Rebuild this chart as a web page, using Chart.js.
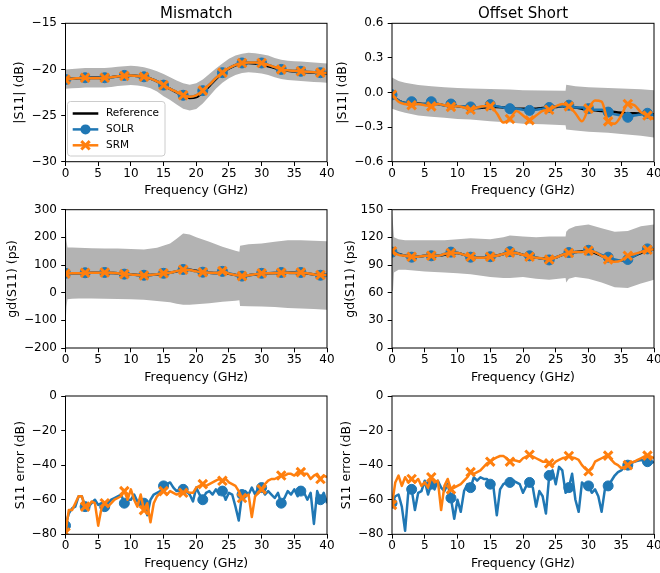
<!DOCTYPE html>
<html><head><meta charset="utf-8">
<script src="https://cdn.jsdelivr.net/npm/chart.js@4.4.1/dist/chart.umd.min.js"></script>
<style>
html,body{margin:0;padding:0;background:#fff;overflow:hidden;width:660px;height:573px;position:relative;}
canvas{position:absolute;}
</style></head><body>
<canvas id="c1"></canvas><canvas id="c2"></canvas><canvas id="c3"></canvas>
<canvas id="c4"></canvas><canvas id="c5"></canvas><canvas id="c6"></canvas>
<script>
// ---------- DATA ----------
const freq1 = [0,1,2,3,4,5,6,7,8,9,10,11,12,13,14,15,16,17,18,19,20,21,22,23,24,25,26,27,28,29,30,31,32,33,34,35,36,37,38,39,40];
const freq05 = [0,0.5,1,1.5,2,2.5,3,3.5,4,4.5,5,5.5,6,6.5,7,7.5,8,8.5,9,9.5,10,10.5,11,11.5,12,12.5,13,13.5,14,14.5,15,15.5,16,16.5,17,17.5,18,18.5,19,19.5,20,20.5,21,21.5,22,22.5,23,23.5,24,24.5,25,25.5,26,26.5,27,27.5,28,28.5,29,29.5,30,30.5,31,31.5,32,32.5,33,33.5,34,34.5,35,35.5,36,36.5,37,37.5,38,38.5,39,39.5,40];
const markerFreqs = [0,3,6,9,12,15,18,21,24,27,30,33,36,39];
const xTicks = [0,5,10,15,20,25,30,35,40];

// Mismatch |S11| (dB)
const mmMagRef  = [-21.05,-21.0,-20.95,-20.9,-20.9,-20.9,-20.9,-20.85,-20.75,-20.7,-20.65,-20.7,-20.8,-21.0,-21.3,-21.7,-22.1,-22.5,-22.9,-23.1,-23.0,-22.5,-21.8,-21.05,-20.4,-19.9,-19.55,-19.35,-19.3,-19.35,-19.45,-19.65,-19.85,-20.05,-20.15,-20.2,-20.25,-20.3,-20.35,-20.4,-20.45];
const mmMagSOLR = [-21.1,-21.0,-20.95,-20.9,-20.95,-20.95,-20.9,-20.85,-20.75,-20.65,-20.65,-20.7,-20.8,-21.0,-21.3,-21.7,-22.1,-22.45,-22.8,-22.95,-22.8,-22.3,-21.65,-20.95,-20.35,-19.85,-19.5,-19.3,-19.25,-19.25,-19.3,-19.5,-19.75,-20.0,-20.1,-20.15,-20.2,-20.25,-20.3,-20.35,-20.4];
const mmMagSRM  = [-21.1,-21.0,-20.95,-20.9,-20.95,-20.95,-20.9,-20.85,-20.75,-20.7,-20.65,-20.7,-20.8,-21.0,-21.3,-21.7,-22.1,-22.45,-22.8,-22.95,-22.8,-22.3,-21.65,-20.95,-20.35,-19.85,-19.5,-19.3,-19.25,-19.25,-19.3,-19.5,-19.75,-20.0,-20.1,-20.15,-20.2,-20.25,-20.3,-20.35,-20.4];
const mmMagBandUpper = [-20.0,-19.95,-19.9,-19.85,-19.85,-19.85,-19.85,-19.8,-19.7,-19.65,-19.6,-19.65,-19.75,-19.95,-20.2,-20.5,-20.85,-21.2,-21.5,-21.65,-21.5,-21.1,-20.5,-19.9,-19.35,-18.85,-18.5,-18.3,-18.2,-18.25,-18.35,-18.5,-18.75,-18.95,-19.05,-19.1,-19.15,-19.2,-19.25,-19.3,-19.35];
const mmMagBandLower = [-22.1,-22.05,-22.0,-21.95,-21.95,-21.95,-21.95,-21.9,-21.8,-21.75,-21.7,-21.75,-21.85,-22.05,-22.4,-22.9,-23.3,-23.8,-24.25,-24.45,-24.3,-23.7,-22.9,-22.1,-21.45,-20.95,-20.6,-20.4,-20.3,-20.35,-20.45,-20.6,-20.85,-21.05,-21.15,-21.2,-21.25,-21.3,-21.35,-21.4,-21.45];

// Offset Short |S11| (dB)
const osMagRef  = [-0.02,-0.07,-0.09,-0.09,-0.095,-0.1,-0.1,-0.1,-0.11,-0.11,-0.12,-0.125,-0.13,-0.135,-0.13,-0.125,-0.125,-0.13,-0.135,-0.14,-0.14,-0.14,-0.14,-0.135,-0.13,-0.125,-0.12,-0.125,-0.13,-0.14,-0.15,-0.155,-0.16,-0.165,-0.17,-0.175,-0.18,-0.18,-0.185,-0.19,-0.19];
const osMagSOLR = [-0.02,-0.07,-0.09,-0.08,-0.1,-0.1,-0.08,-0.1,-0.11,-0.1,-0.12,-0.12,-0.125,-0.13,-0.12,-0.105,-0.12,-0.13,-0.14,-0.14,-0.15,-0.155,-0.15,-0.14,-0.13,-0.12,-0.12,-0.11,-0.13,-0.13,-0.14,-0.15,-0.15,-0.17,-0.19,-0.2,-0.215,-0.2,-0.19,-0.18,-0.2];
const osMagSRM  = [-0.02,-0.08,-0.1,-0.11,-0.1,-0.11,-0.12,-0.1,-0.11,-0.125,-0.12,-0.13,-0.15,-0.13,-0.12,-0.12,-0.18,-0.26,-0.23,-0.16,-0.2,-0.24,-0.2,-0.16,-0.15,-0.12,-0.1,-0.12,-0.18,-0.25,-0.14,-0.07,-0.08,-0.25,-0.27,-0.2,-0.1,-0.11,-0.17,-0.2,-0.23];
const osMagBandFreq  = [0,1,2,4,6,8,10,12,15,18,20,23,26.5,26.6,28,30,33,35,38,40];
const osMagBandUpper = [0.13,0.1,0.085,0.065,0.055,0.045,0.04,0.035,0.03,0.025,0.02,0.018,0.015,0.068,0.055,0.045,0.04,0.035,0.028,0.02];
const osMagBandLower = [-0.14,-0.16,-0.175,-0.2,-0.21,-0.22,-0.23,-0.235,-0.25,-0.26,-0.27,-0.275,-0.285,-0.32,-0.33,-0.34,-0.35,-0.36,-0.375,-0.39];

// Mismatch gd(S11) (ps)
const mmGdRef  = [70,70,70,71,72,72,72,71,70,68,66,64,63,64,66,69,72,77,82,83,79,75,72,71,70,68,64,61,63,66,69,70,71,72,72,72,71,69,66,64,64];
const mmGdSOLR = [70,70,70,72,72,72,73,72,70,67,66,64,63,64,67,70,72,78,84,82,77,74,72,70,77,70,64,60,63,67,70,70,71,73,72,71,73,70,66,63,64];
const mmGdSRM  = [69,70,70,72,72,72,73,72,70,67,66,64,62,64,67,70,72,78,83,82,77,74,72,71,78,69,64,60,63,67,70,70,71,72,72,71,73,70,66,64,64];
const mmGdBandFreq  = [0,0.05,0.15,0.3,1,2,4,6,8,10,12,14,16,17,18,19,20,22,24,26,26.6,26.7,28,30,32,34,36,38,40];
const mmGdBandUpper = [300,260,190,163,163,162,161,160,160,158,156,162,178,195,214,210,200,184,166,152,148,170,175,178,184,190,190,188,186];
const mmGdBandLower = [-100,-95,-50,-24,-22,-21,-21,-22,-23,-24,-26,-30,-35,-40,-44,-44,-42,-38,-33,-29,-27,-48,-49,-50,-52,-55,-57,-59,-62];

// Offset Short gd(S11) (ps)
const osGdRef  = [103,102,100,99,99,100,100,100,101,103,103,101,99,98,98,99,100,102,103.5,103,101,100,98,97,96.5,98,101,103,104,105,105,103,100,97,95,95,97,100,103,106,107];
const osGdSOLR = [104,102,100,98.5,99,100,100,100,102,104,103,101,98.5,98,98,99,100,102,104.5,103,101,100,98,97,95.5,98,101,103.5,104,104,106,104,101,98.5,96,95,96,100,104,107.5,107];
const osGdSRM  = [105,101,100,99,99,100,100,100,102,103,103,101,99,98,98,99,100,102,103.5,103,101,99,98,97,96,98,101,103,104,104,105.5,104,100,96,93.5,95,100,102,104,106.5,107];
const osGdBandFreq  = [0,0.15,0.3,1,2,5,8,10,12,15,17,18,20,22,24,26.5,26.6,27,28,30,32,34,36,38,40];
const osGdBandUpper = [150,135,120,118,117,117,117,118,119,118,120,122,121,120,121,121,126,129,132,134,130,126,127,132,134];
const osGdBandLower = [95,62,82,85,85,83,82,81,80,77,76,76,77,75,74,76,71,75,77,75,71,66,65,70,74];

// Mismatch S11 error (dB), 0.5 GHz grid
const mmErrSOLR = [-75,-68,-65,-64,-58,-58,-64,-64,-62,-60,
  -63,-62,-64,-62,-60,-59,-58,-57,-62,-60,
  -60,-57,-61,-60,-62,-69,-60,-57,-56,-55,
  -52,-51,-50,-53,-55,-54,-54,-55,-57,-61,
  -53,-57,-60,-56,-55,-57,-54,-57,-55,-60,
  -56,-57,-64,-72,-57,-55,-57,-53,-57,-53,
  -53,-57,-55,-57,-59,-56,-62,-59,-55,-57,
  -54,-58,-55,-56,-60,-56,-74,-55,-60,-56,
  -62];
const mmErrSRM = [-79,-66,-66,-62,-58,-58,-64,-64,-61,-62,
  -75,-65,-62,-64,-62,-60,-59,-58,-55,-60,
  -54,-60,-64,-57,-66,-62,-73,-62,-58,-56,
  -55,-57,-55,-56,-57,-56,-56,-55,-56,-56,
  -53,-52,-51,-52,-51,-50,-49,-48,-49,-48,
  -50,-51,-52,-55,-59,-58,-57,-70,-58,-56,
  -54,-51,-49,-48,-48,-47,-46,-46,-45,-45,
  -46,-44,-44,-45,-45,-48,-46,-45,-48,-46,
  -47];

// Offset Short S11 error (dB), 0.5 GHz grid
const osErrSOLR = [-62,-58,-57,-64,-78,-55,-54,-66,-56,-55,
  -49,-57,-51,-54,-49,-53,-55,-51,-59,-71,
  -60,-67,-55,-51,-53,-47,-49,-47,-48,-48,
  -51,-53,-69,-54,-51,-50,-50,-49,-50,-51,
  -56,-52,-50,-53,-64,-55,-58,-68,-46,-43,
  -51,-41,-43,-56,-53,-45,-60,-67,-50,-52,
  -52,-56,-54,-58,-67,-54,-52,-49,-46,-44,
  -43,-41,-40,-39,-38,-37.5,-37,-37.5,-38,-39,
  -38];
const osErrSRM = [-63,-50,-46,-52,-47,-50,-48,-50,-48,-52,
  -50,-53,-47,-50,-49,-66,-52,-48,-54,-53,
  -52,-51,-49,-47,-44,-45,-44,-43,-41,-39,
  -38,-36.5,-35.5,-34.7,-34.7,-36,-38,-37,-37.5,-38,
  -36,-35,-34,-35,-36,-37,-38,-38,-39,-40,
  -38,-37,-36,-35.5,-34.7,-35.5,-36,-37,-40,-42,
  -43.5,-42,-38,-37,-36,-35,-34.5,-37,-39,-40,
  -41.8,-41,-40,-38.5,-38,-37,-36,-35,-34.5,-35,
  -36];

// ---------- STYLE / HELPERS ----------
const FONT = 'DejaVu Sans';
const BLUE = '#1f77b4', ORANGE = '#ff7f0e', GRAY = '#b3b3b3';
Chart.defaults.font.family = FONT;
Chart.defaults.color = '#000';

function pts(xs, ys) { return xs.map((x, i) => ({x: x, y: ys[i]})); }
function isMarker(ctx) { return ctx.raw && markerFreqs.indexOf(ctx.raw.x) >= 0; }
function minus(s) { return String(s).replace('-', '\u2212'); }

function buildSets(s) {
  const sets = [];
  if (s.band) {
    sets.push({data: pts(s.band.f, s.band.u), borderWidth: 0, borderColor: 'rgba(0,0,0,0)', pointRadius: 0,
      fill: '+1', backgroundColor: GRAY, order: 10, tension: 0, clip: 0});
    sets.push({data: pts(s.band.f, s.band.l), borderWidth: 0, borderColor: 'rgba(0,0,0,0)', pointRadius: 0,
      fill: false, order: 11, tension: 0, clip: 0});
  }
  const interp = s.smooth ? {cubicInterpolationMode: 'monotone'} : {tension: 0};
  if (s.ref) sets.push(Object.assign({label: 'Reference', data: pts(s.f, s.ref), borderColor: '#000', borderWidth: 2.5,
    pointRadius: 0, fill: false, order: 3, clip: 0}, interp));
  sets.push(Object.assign({label: 'SOLR', data: pts(s.f, s.solr), borderColor: BLUE, borderWidth: 2.5,
    pointStyle: 'circle', pointRadius: ctx => isMarker(ctx) ? 5 : 0, pointBackgroundColor: BLUE,
    pointBorderColor: BLUE, pointBorderWidth: 1, fill: false, order: 2, clip: 0, borderJoinStyle: 'round'}, interp));
  sets.push(Object.assign({label: 'SRM', data: pts(s.f, s.srm), borderColor: ORANGE, borderWidth: 2.5,
    pointStyle: 'crossRot', pointRadius: ctx => isMarker(ctx) ? 6 : 0, pointBackgroundColor: ORANGE,
    pointBorderColor: ORANGE, pointBorderWidth: 3, fill: false, order: 1, clip: 0, borderJoinStyle: 'round'}, interp));
  return sets;
}

const framePlugin = {
  id: 'frame',
  afterDatasetsDraw(chart, args, opts) {
    const ctx = chart.ctx, a = chart.chartArea;
    ctx.save();
    ctx.strokeStyle = '#000'; ctx.lineWidth = 1;
    ctx.strokeRect(a.left, a.top, a.right - a.left, a.bottom - a.top);
    ctx.restore();
  },
  afterDraw(chart, args, opts) {
    const ctx = chart.ctx, a = chart.chartArea;
    ctx.save();
    if (opts.title) {
      ctx.fillStyle = '#000';
      ctx.font = '15px "' + FONT + '"';
      ctx.textAlign = 'center'; ctx.textBaseline = 'alphabetic';
      ctx.fillText(opts.title, (a.left + a.right) / 2, a.top - 5);
    }
    if (opts.legend) {
      const x0 = a.left + 2, y0 = a.top + 78.2, w = 97.5, h = 54.5, r = 3;
      ctx.beginPath();
      ctx.roundRect(x0, y0, w, h, r);
      ctx.fillStyle = 'rgba(255,255,255,0.8)'; ctx.fill();
      ctx.strokeStyle = '#cccccc'; ctx.lineWidth = 1; ctx.stroke();
      const items = [
        {t: 'Reference', c: '#000', m: null},
        {t: 'SOLR', c: BLUE, m: 'o'},
        {t: 'SRM', c: ORANGE, m: 'x'}
      ];
      const lx0 = x0 + 5.2, lx1 = x0 + 30.8, lxm = (lx0 + lx1) / 2;
      items.forEach((it, i) => {
        const y = y0 + 12 + i * 15.9;
        ctx.strokeStyle = it.c; ctx.lineWidth = 2.5; ctx.lineCap = 'butt';
        ctx.beginPath(); ctx.moveTo(lx0, y); ctx.lineTo(lx1, y); ctx.stroke();
        if (it.m === 'o') {
          ctx.fillStyle = it.c; ctx.beginPath(); ctx.arc(lxm, y, 5, 0, Math.PI * 2); ctx.fill();
        } else if (it.m === 'x') {
          ctx.lineWidth = 3; const d = 4.2;
          ctx.beginPath(); ctx.moveTo(lxm - d, y - d); ctx.lineTo(lxm + d, y + d);
          ctx.moveTo(lxm - d, y + d); ctx.lineTo(lxm + d, y - d); ctx.stroke();
        }
        ctx.fillStyle = '#000'; ctx.font = '10.5px "' + FONT + '"';
        ctx.textAlign = 'left'; ctx.textBaseline = 'middle';
        ctx.fillText(it.t, x0 + 38.5, y);
      });
    }
    ctx.restore();
  }
};

function makeChart(id, c) {
  const el = document.getElementById(id);
  el.width = c.w; el.height = c.h;
  el.style.left = c.left + 'px'; el.style.top = c.top + 'px';
  el.style.width = c.w + 'px'; el.style.height = c.h + 'px';
  return new Chart(el, {
    type: 'line',
    data: {datasets: buildSets(c.series)},
    plugins: [framePlugin],
    options: {
      responsive: false, animation: false, devicePixelRatio: 1,
      events: [],
      layout: {padding: c.pad},
      plugins: {legend: {display: false}, tooltip: {enabled: false},
        frame: {title: c.title || '', legend: !!c.legend}},
      scales: {
        x: {
          type: 'linear', min: 0, max: 40,
          afterBuildTicks: s => { s.ticks = xTicks.map(v => ({value: v})); },
          ticks: {font: {size: 12}, color: '#000', padding: 0.5, maxRotation: 0, autoSkip: false,
            callback: v => String(v)},
          grid: {display: true, drawOnChartArea: false, drawTicks: true, tickLength: 4.3, tickColor: '#000', tickWidth: 1},
          border: {display: false},
          title: {display: true, text: 'Frequency (GHz)', font: {size: 12.5}, color: '#000', padding: 0},
          afterFit: s => { s.height = c.xH; s.paddingLeft = 0; s.paddingRight = 0; }
        },
        y: {
          type: 'linear', min: c.yMin, max: c.yMax,
          afterBuildTicks: s => { s.ticks = c.yTicks.map(v => ({value: v})); },
          ticks: {font: {size: 12}, color: '#000', padding: 4.3, autoSkip: false,
            callback: v => minus(c.fmt ? c.fmt(v) : String(v))},
          grid: {display: true, drawOnChartArea: false, drawTicks: true, tickLength: 4.3, tickColor: '#000', tickWidth: 1},
          border: {display: false},
          title: {display: true, text: c.yLabel, font: {size: 12.5}, color: '#000', padding: 0},
          afterFit: s => { s.width = c.yW; s.paddingTop = 0; s.paddingBottom = 0; }
        }
      }
    }
  });
}

const fmt1 = v => (Math.abs(v) < 1e-9 ? 0 : v).toFixed(1);

makeChart('c1', {left: 0, top: 0, w: 345, h: 200, pad: {left: 12.5, top: 23.3, right: 18, bottom: 1.5},
  yW: 53, xH: 36.8, yMin: -30, yMax: -15, yTicks: [-30,-25,-20,-15], yLabel: '|S11| (dB)',
  title: 'Mismatch', legend: true,
  series: {f: freq1, ref: mmMagRef, solr: mmMagSOLR, srm: mmMagSRM, smooth: true,
    band: {f: freq1, u: mmMagBandUpper, l: mmMagBandLower}}});

makeChart('c2', {left: 330, top: 0, w: 345, h: 200, pad: {left: 5.5, top: 23.3, right: 21, bottom: 1.5},
  yW: 56.5, xH: 36.8, yMin: -0.6, yMax: 0.6, yTicks: [-0.6,-0.3,0,0.3,0.6], fmt: fmt1, yLabel: '|S11| (dB)',
  title: 'Offset Short',
  series: {f: freq1, ref: osMagRef, solr: osMagSOLR, srm: osMagSRM, smooth: true,
    band: {f: osMagBandFreq, u: osMagBandUpper, l: osMagBandLower}}});

makeChart('c3', {left: 0, top: 200, w: 345, h: 185, pad: {left: 5.5, top: 9.7, right: 18, bottom: 0.2},
  yW: 60, xH: 36.8, yMin: -200, yMax: 300, yTicks: [-200,-100,0,100,200,300], yLabel: 'gd(S11) (ps)',
  series: {f: freq1, ref: mmGdRef, solr: mmGdSOLR, srm: mmGdSRM, smooth: true,
    band: {f: mmGdBandFreq, u: mmGdBandUpper, l: mmGdBandLower}}});

makeChart('c4', {left: 330, top: 200, w: 345, h: 185, pad: {left: 13.5, top: 9.7, right: 21, bottom: 0.2},
  yW: 48.5, xH: 36.8, yMin: 0, yMax: 150, yTicks: [0,30,60,90,120,150], yLabel: 'gd(S11) (ps)',
  series: {f: freq1, ref: osGdRef, solr: osGdSOLR, srm: osGdSRM, smooth: true,
    band: {f: osGdBandFreq, u: osGdBandUpper, l: osGdBandLower}}});

makeChart('c5', {left: 0, top: 385, w: 345, h: 188, pad: {left: 13.5, top: 11, right: 18, bottom: 1.9},
  yW: 52, xH: 36.8, yMin: -80, yMax: 0, yTicks: [-80,-60,-40,-20,0], yLabel: 'S11 error (dB)',
  series: {f: freq05, solr: mmErrSOLR, srm: mmErrSRM, smooth: false}});

makeChart('c6', {left: 330, top: 385, w: 345, h: 188, pad: {left: 9, top: 11, right: 21, bottom: 1.9},
  yW: 53, xH: 36.8, yMin: -80, yMax: 0, yTicks: [-80,-60,-40,-20,0], yLabel: 'S11 error (dB)',
  series: {f: freq05, solr: osErrSOLR, srm: osErrSRM, smooth: false}});
</script>
</body></html>
